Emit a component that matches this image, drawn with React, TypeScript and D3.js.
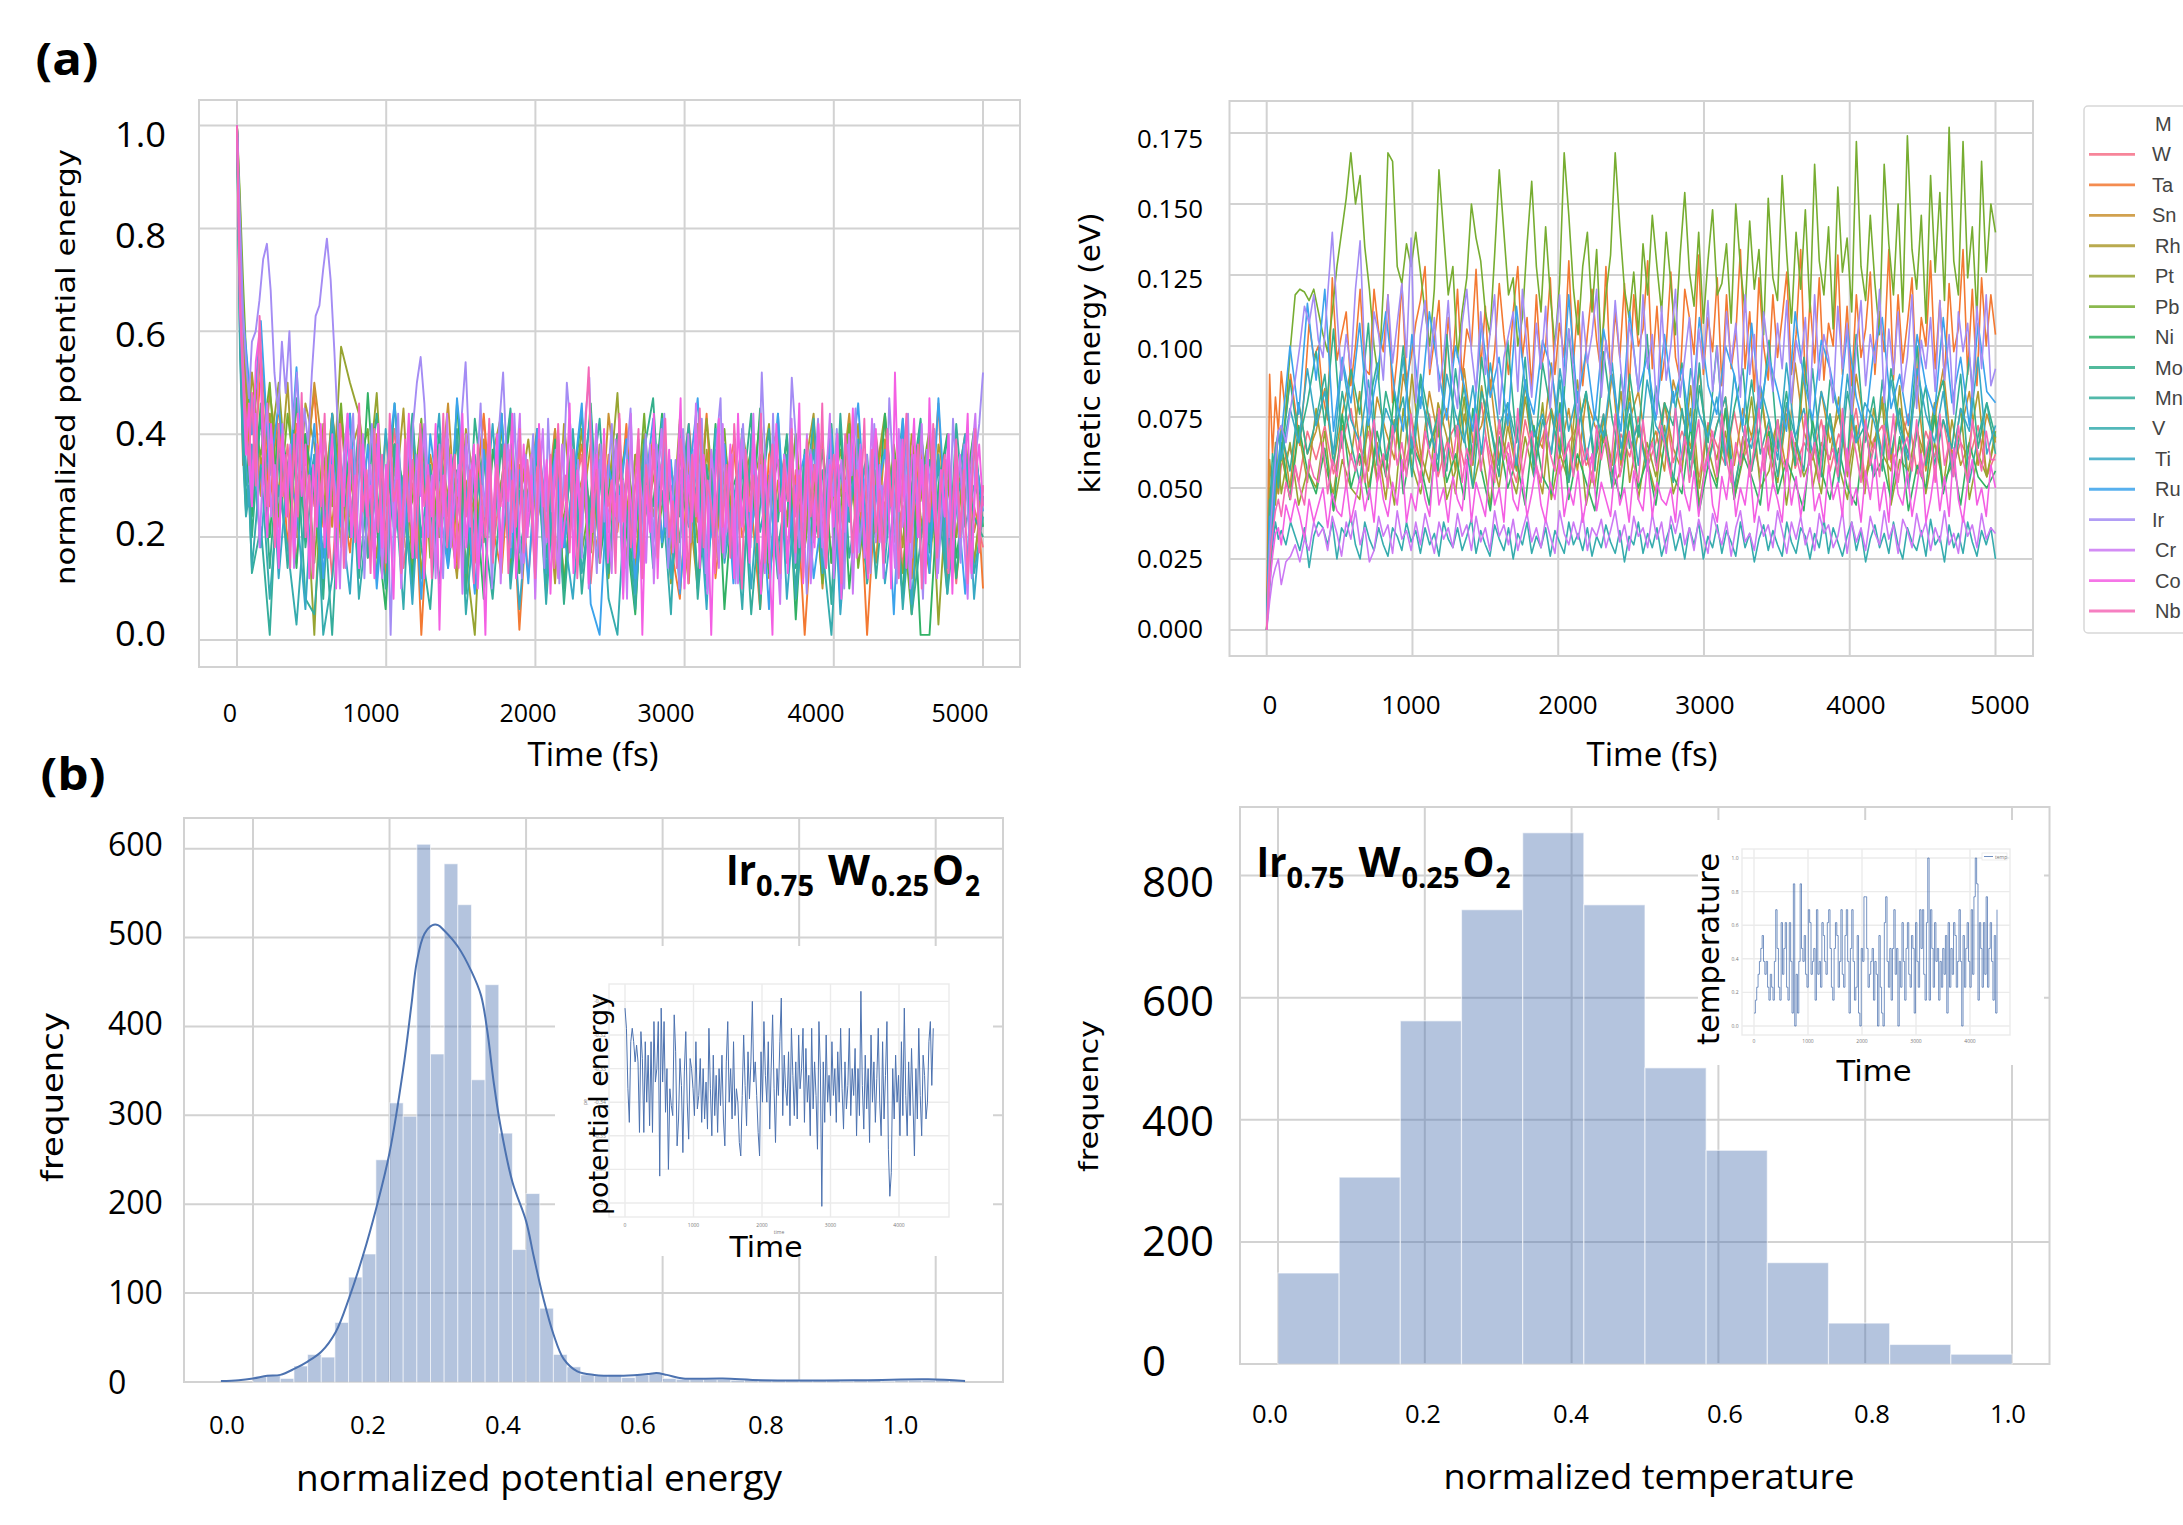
import React from "react";
import * as d3 from "d3";

const metals = ["W","Ta","Sn","Rh","Pt","Pb","Ni","Mo","Mn","V","Ti","Ru","Ir","Cr","Co","Nb"];
const metalColors = ["#f67088","#f37932","#ca9131","#ad9c31","#97a431","#77ad31","#32b165","#34af8b","#35ad9c","#36acae","#38a9c5","#3ba3ec","#a48cf4","#cc79f4","#f45fe3","#f569b7"];

// normalized potential energy, in hundredths
const peW = [100,70,52,44,36,48,30,44,22,38,15,40,26,34,12,42,24,37,18,33,27,
41,14,30,36,20,39,25,13,35,29,43,17,31,22,38,12,34,26,41,19,28,36,11,33,
24,40,16,30,37,21,35,13,28,42,23,32,18,38,26,10,36,29,20,41,15,33,25,39,
12,31,22,37,27,17,40,24,34,14,30,38,20,28,35,11,33,26,18];
const peTa = [100,66,34,46,40,30,52,26,46,18,42,34,48,22,44,30,17,40,24,38,12,
35,27,43,1,33,20,39,15,30,25,44,22,13,37,2,29,41,19,34,11,28,38,24,16,
36,21,42,14,31,26,40,18,8,35,23,44,12,30,38,20,27,6,36,41,17,32,1,28,
39,15,34,23,37,1,30,43,19,26,12,36,22,46,10,33,28,40,10];
const peSn = [100,74,60,50,38,44,28,48,35,24,46,30,50,36,22,44,28,38,16,40,26,
33,18,42,12,36,27,46,20,31,15,39,24,43,13,34,28,37,21,41,10,32,25,38,17,
44,29,14,36,23,40,19,33,26,11,42,30,16,38,22,35,27,43,13,31,24,40,18,34,
10,37,28,44,20,30,15,39,25,33,12,41,23,36,17,29,40,21,30];
const peRh = [100,78,56,48,42,52,34,44,28,50,20,46,38,24,44,18,36,42,30,16,40,
26,45,14,33,22,38,28,12,41,30,19,36,44,15,27,39,23,33,11,42,25,31,17,38,
21,35,28,13,40,24,34,18,43,27,10,37,22,32,16,41,29,36,12,25,39,20,33,44,
14,28,37,23,42,11,31,26,35,18,40,24,13,38,30,20,36,15,28];
const pePt = [100,84,62,54,44,40,55,36,50,28,46,32,1,42,26,57,50,44,30,48,18,
36,25,42,12,34,20,38,28,16,1,37,24,31,44,13,29,39,21,34,10,26,41,17,33,
28,48,14,36,23,31,40,11,27,37,19,43,25,33,15,39,22,30,42,12,34,26,18,41,
21,36,10,29,38,16,32,44,24,13,35,27,40,3,31,20,37,15,30];
const pePb = [100,86,70,56,48,42,36,50,24,44,30,40,15,36,28,46,20,34,41,12,30,
38,22,27,43,16,33,24,39,10,29,36,19,42,14,31,26,37,9,33,23,40,17,28,35,
12,30,38,21,44,15,26,34,19,39,10,32,24,41,16,29,37,13,27,35,22,40,18,31,
11,36,25,42,14,28,33,19,38,24,5,30,41,17,34,12,27,37,26];
const peNi = [100,64,44,30,38,24,46,20,42,34,14,40,28,10,44,26,36,18,48,22,6,
38,30,12,41,25,34,16,46,20,31,8,37,27,43,13,29,35,19,39,10,33,24,46,15,
28,40,21,5,36,26,44,12,31,22,38,17,42,6,30,35,20,45,13,27,39,4,33,24,
37,15,41,10,29,34,19,44,23,9,36,1,1,30,40,16,28,41,22];
const peMo = [100,60,40,26,34,20,44,14,38,28,47,18,34,8,42,24,37,12,30,44,20,
46,26,10,36,22,40,15,33,9,43,28,19,38,12,31,25,41,16,35,7,29,44,21,33,
13,39,26,9,37,47,18,30,24,41,11,34,20,38,15,28,44,6,32,23,40,14,36,19,
27,42,10,33,25,13,38,21,35,8,30,43,17,28,39,12,34,24,20];
const peMn = [100,58,38,25,30,13,22,1,36,14,40,8,5,28,1,34,20,42,16,30,10,
38,24,44,18,6,32,26,41,13,36,22,8,30,45,17,27,40,11,33,21,37,9,28,43,
15,31,24,6,39,19,35,12,27,42,8,30,23,38,14,34,5,26,41,18,29,10,37,21,
33,7,44,16,28,36,12,31,24,40,5,19,35,27,9,42,22,30,26];
const peV = [100,56,36,24,28,14,34,8,30,18,3,26,36,1,12,30,44,8,24,38,15,
31,6,42,20,34,11,28,39,5,25,36,16,44,10,29,22,37,7,33,18,41,13,27,35,
8,1,32,20,38,14,29,5,42,24,34,10,37,17,28,6,40,21,31,12,36,8,26,43,
18,1,33,23,39,11,30,15,36,6,27,42,19,34,9,25,38,13,24];
const peTi = [100,68,46,34,26,38,18,42,12,33,26,6,36,16,44,24,9,38,28,12,41,
20,32,7,36,25,44,14,29,38,10,22,42,18,33,6,27,40,13,35,21,8,30,44,16,
34,25,39,9,28,19,43,12,36,23,31,6,41,15,27,38,10,33,20,44,8,30,24,37,
13,41,5,28,34,18,39,11,26,43,7,32,21,36,14,29,40,8,28];
const peRu = [100,76,63,57,50,40,62,32,46,27,53,24,42,12,36,22,44,18,38,10,31,
46,20,35,8,40,26,14,47,29,9,37,22,44,16,33,11,41,25,36,18,30,46,7,1,
34,23,39,12,28,43,19,35,9,31,47,15,26,38,11,41,21,33,6,44,17,29,36,12,
25,40,8,31,46,19,27,37,5,43,23,34,13,47,18,30,9,38,25];
const peIr = [100,82,64,54,47,58,60,66,74,77,68,52,44,58,48,60,41,52,33,45,
38,52,63,65,72,78,70,56,40,28,14,33,44,22,38,12,30,42,25,36,
18,34,1,28,44,20,36,26,42,50,55,46,30,18,38,24,12,40,22,34,
28,44,54,36,15,32,46,24,38,10,30,42,52,34,18,44,26,12,36,28,
40,20,33,14,43,25,37,11,30,50,41,22,35,16,44,51,27,13,38,23,
32,42,18,28,9,36,45,21,33,12,40,26,17,38,30,44,14,24,35,10,
41,28,19,37,25,43,13,31,22,39,47,16,29,36,11,34,42,24,18,38,
27,52,33,15,44,21,12,36,29,51,40,18,26,9,37,31,43,20,14,35,
28,41,23,10,38,32,45,17,26,36,13,42,24,30,19,47,33,11,39,27,
44,16,34,22,8,37,29,41,13,25,35,20,43,30,15,38,24,12,36,
42,52];
const peCr = [100,72,54,42,34,26,44,18,36,46,24,34,16,42,26,38,14,30,44,22,
32,12,38,26,42,18,34,28,10,36,44,20,30,14,40,26,34,18,42,12,
30,38,22,34,10,26,40,16,36,28,42,20,32,12,38,24,44,18,28,34,
9,40,22,36,14,30,26,42,17,35,11,28,38,21,33,44,15,26,36,8,
30,41,19,34,24,12,38,27,43,16,32,21,37,10,29,42,18,35,25,13,
39,23,31,8,44,20,34,27,15,38,11,30,41,22,36,17,26,33,12,40,
24,46,19,31,9,37,28,14,42,21,35,25,11,39,30,16,44,22,34,13,
27,38,20,7,36,29,43,15,33,23,40,11,26,37,18,31,44,12,28,35,
21,40,9,30,38,16,25,43,19,34,12,37,27,14,41,22,32,10,36,26,
42,17,29,38,12,33,24,40,15,27,36,20,8,35,44,22,30];
const peCo = [100,64,50,36,46,26,54,60,32,20,42,30,14,40,24,36,16,44,28,38,
12,34,22,42,18,30,40,10,36,26,44,20,32,14,38,24,30,12,42,18,
34,26,8,38,22,30,44,16,28,40,12,34,24,42,2,32,20,36,14,28,
44,18,30,38,10,26,1,36,22,40,16,33,27,44,12,24,38,20,32,14,
42,26,35,9,30,40,18,25,46,13,33,22,38,11,28,36,19,41,15,31,
24,43,8,35,27,16,39,1,30,21,44,12,34,25,37,18,29,47,10,32,
23,40,14,36,27,1,31,43,17,26,38,12,44,22,33,15,40,28,9,35,
20,1,42,25,32,13,38,24,46,11,30,36,18,42,27,14,34,22,40,8,
31,26,45,16,37,21,12,33,41,19,28,36,10,52,25,39,14,30,43,20,
35,11,47,27,17,33,24,40,9,36,22,29,44,13,31,38,26];
const peNb = [100,66,52,42,34,48,30,63,44,26,38,18,42,28,36,14,40,24,48,20,
32,12,38,26,44,16,34,22,42,14,30,37,19,46,25,33,13,41,21,36,
15,44,27,31,13,39,23,35,16,42,26,32,12,37,22,44,18,30,36,14,
40,24,33,11,38,28,20,43,15,34,26,38,13,31,22,41,17,35,25,12,
39,29,20,36,14,42,24,32,17,37,12,28,40,53,21,33,15,38,26,31,
13,44,23,35,18,29,41,12,34,25,37,16,30,43,20,27,14,39,33,11,
36,24,45,18,31,26,13,40,22,34,16,42,28,10,37,25,32,19,44,15,
30,38,21,13,35,27,41,17,32,12,39,24,34,20,46,14,28,36,22,11,
40,30,17,33,25,43,13,37,21,29,15,41,26,35,12,31,44,19,27,38,
10,34,23,42,16,30,36,13,25,39,20,33,11,28,41,17,30];
const peSeries = [peW,peTa,peSn,peRh,pePt,pePb,peNi,peMo,peMn,peV,peTi,peRu,peIr,peCr,peCo,peNb];

// kinetic energy, in thousandths of an eV
const keW = [0,28,45,52,48,58,64,52,70,60,72,55,66,78,58,70,52,62,74,56,68,
60,76,54,66,72,58,64,80,56,70,62,52,74,60,68,78,55,66,72,58,63,76,54,69,
61,75,57,66,80,59,70,62,54,73,65,58,77,60,68,55,72,63,79,57,66,60,74,56,
69,62,78,54,67,72,59,64,76,55,70,61,74,57,66,60,72,54,62];
const keTa = [0,90,62,82,70,91,75,90,78,65,84,108,96,100,82,74,124,95,104,112,
86,100,120,92,90,120,105,98,118,80,96,122,88,96,108,116,128,90,102,116,
82,110,94,120,88,106,100,127,92,114,84,98,122,104,90,112,128,96,110,85,
118,92,100,124,90,108,96,130,94,116,86,104,120,102,90,128,88,112,96,122,
84,118,100,106,130,92,114,88,100,126,96,88,120,110,97,132,90,110,98,124,
86,118,92,104,134,92,112,84,124,100,88,118,96,110,126,90,104,134,86,116,
94,124,88,108,100,132,90,114,86,118,96,106,126,90,112,98,134,88,118,94,
108,124,86,110,100,130,92,116,88,122,98,106,134,90,120,86,124,100,118,104];
const keSn = [0,60,48,66,55,72,50,80,62,70,85,58,76,92,64,56,82,70,60,90,74,
58,84,68,78,56,92,66,72,88,60,76,58,86,70,64,94,62,78,56,82,72,66,90,58,
74,84,62,70,56,88,76,64,92,60,72,82,58,78,68,86,62,74,56,94,70,60,84,66,
76,58,90,72,64,82,60,78,68,86,56,74,92,62,70,84,58,76,66];
const keRh = [0,50,40,58,48,62,46,70,52,78,58,48,72,60,84,50,66,46,74,56,90,
62,52,80,68,48,76,58,86,64,50,72,56,82,60,48,78,66,54,88,62,50,74,58,84,
52,70,60,48,80,64,56,86,50,72,60,78,48,68,56,84,62,52,76,58,90,50,66,60,
82,54,72,48,78,62,56,86,52,70,60,80,50,74,58,66,84,54,68];
const kePt = [0,38,52,44,60,48,66,44,56,50,70,42,60,50,46,74,54,62,44,78,58,
48,66,72,46,56,82,50,64,44,74,58,48,68,54,80,46,62,52,76,44,60,70,50,56,
84,46,66,54,72,48,58,78,44,64,52,70,46,60,82,50,56,74,44,66,54,62,48,76,
58,46,70,52,64,80,44,60,56,72,48,66,52,58,78,46,62,54,70];
const kePb = [0,18,36,50,58,60,78,100,118,120,119,116,120,112,104,98,112,128,140,152,
168,150,160,135,120,100,88,120,168,165,128,122,136,128,140,126,112,100,120,162,
140,118,128,96,112,124,150,138,130,112,104,132,162,140,118,124,100,110,136,158,
128,112,142,118,100,122,168,146,120,104,128,140,112,134,98,118,132,168,142,120,
110,126,104,136,118,146,128,112,140,122,104,132,154,126,114,140,108,130,148,118,
122,136,108,150,128,112,144,120,134,104,152,124,116,160,132,108,140,120,148,112,
164,130,118,142,106,156,126,138,112,172,128,116,146,122,104,164,136,118,150,112,
174,134,120,146,108,160,126,154,116,177,130,118,172,124,142,110,165,126,150,140];
const keNi = [0,30,48,58,52,66,46,72,56,48,64,42,76,50,62,46,70,54,84,48,66,
58,44,74,52,62,46,78,56,42,68,50,60,44,72,54,48,80,46,62,52,42,70,56,46,
76,50,60,44,66,54,48,72,42,58,50,78,46,62,54,44,70,48,60,52,42,74,56,46,
64,50,44,72,54,60,46,68,42,58,50,76,48,62,44,66,54,50,56];
const keMo = [0,42,62,56,70,60,88,66,80,98,72,106,64,92,76,108,58,84,70,100,62,
90,74,56,104,68,86,60,96,72,54,102,66,88,58,94,76,62,106,70,84,56,98,74,60,
90,68,104,58,80,72,94,54,86,66,100,60,78,92,56,72,102,64,84,58,96,70,54,88,
76,60,104,66,82,56,92,72,62,100,58,78,88,54,70,96,64,80,68];
const keMn = [0,46,36,62,50,70,56,80,62,74,90,58,84,66,52,78,94,60,70,82,54,
88,64,76,56,92,68,50,84,72,58,80,66,96,54,74,62,88,52,70,84,60,76,50,90,
64,72,56,86,68,52,78,60,94,58,72,82,50,66,88,62,74,54,80,68,56,92,60,76,
52,84,66,72,54,88,62,78,50,70,86,58,74,64,90,52,68,80,62];
const keV = [0,14,30,38,32,35,30,38,33,28,36,22,33,38,36,30,38,25,36,33,
40,30,25,38,32,28,36,30,26,36,33,28,38,31,35,27,36,30,34,26,
38,32,29,36,28,33,39,27,35,30,26,37,32,28,36,25,34,30,38,27,
33,29,36,26,35,31,27,38,30,34,28,36,26,33,29,37,31,27,35,24,
33,30,38,27,34,29,36,26,32,37,28,34,25,36,30,38,25,33,29,37,
27,35,31,26,38,29,34,24,32,37,28,35,30,26,38,31,27,36,33,25,
34,29,39,27,36,31,26,33,38,28,35,24,32,37,29,34,27,38,30,25,
36,31,28,35,26,39,30,33,24,37,29,34,27,38,31,26,35,30,36,25];
const keTi = [0,32,55,64,70,60,78,66,92,72,84,62,95,74,66,88,60,78,70,96,64,
82,72,60,90,76,66,86,62,94,72,80,58,88,68,76,62,92,70,84,60,76,68,94,64,
80,58,88,72,66,84,60,92,76,68,82,58,90,70,64,86,74,60,94,68,78,62,84,72,
58,90,66,80,74,62,88,70,60,92,76,66,84,58,78,70,96,62,72];
const keRu = [0,40,30,54,60,68,100,76,115,88,120,70,96,80,108,72,90,112,84,70,104,
78,112,92,74,100,86,70,108,82,96,72,114,86,76,102,92,70,118,80,98,74,106,88,70,
112,84,96,74,104,80,92,70,110,86,76,100,90,72,108,78,96,84,70,112,88,74,102,92,
76,106,82,70,98,110,78,90,72,104,86,76,110,80,96,72,108,84,80];
const keIr = [0,30,46,60,70,72,66,78,88,100,114,108,118,102,96,118,140,112,88,104,
92,120,137,96,76,112,104,88,118,94,108,122,96,138,80,104,116,92,110,84,
96,116,88,78,108,120,98,84,112,90,104,118,76,96,104,112,84,120,98,82,
108,92,114,78,100,118,86,106,92,74,112,94,104,120,82,102,90,116,96,78,
108,98,84,118,92,104,76,114,88,100,120,82,96,110,78,106,92,116,84,100,
76,112,94,108,82,118,90,104,76,112,98,84,108,92,116,80,102,94,110,78,
118,88,104,96,80,114,92,108,76,100,116,86,104,94,120,80,106,90,112,84,
96,118,78,102,92,110,84,116,88,104,76,112,98,108,82,114,92,118,86,92];
const keCr = [0,10,18,22,25,16,24,26,30,24,32,28,38,33,36,28,40,34,26,38,
32,42,30,36,24,28,40,33,37,27,42,32,35,28,38,30,41,34,27,38,
32,36,29,41,33,37,28,40,31,36,28,42,33,37,30,39,28,35,41,31,
36,29,39,33,27,42,34,30,38,32,41,28,36,33,39,29,35,42,31,37,
28,40,33,36,29,41,32,38,27,40,34,42,30,36,28,39,33,27,41,35,
30,38,26,36,42,31,34,28,40,33,37,29,42,35,27,38,32,40,30,36,
28,41,34,37,29,33,42,27,38,31,36,28,40,34,30,42,32,37,27,39,
35,29,41,33,38,28,36,31,42,30,34,27,40,33,37,29,41,32,36,34];
const keCo = [0,16,26,34,36,30,44,38,46,40,32,46,38,44,50,36,48,42,40,52,
38,46,54,42,50,38,58,46,40,52,44,60,38,48,42,56,46,40,62,44,
50,38,54,46,42,60,38,52,46,40,58,44,50,38,62,46,42,54,40,48,
58,44,38,52,46,60,40,50,44,56,38,48,62,42,52,46,40,58,44,50,
38,56,46,42,60,40,52,46,44,50,38,60,48,42,56,40,52,62,44,38,
54,46,60,40,50,44,58,38,48,64,42,52,46,38,60,44,54,40,50,62,
42,48,38,58,46,52,40,64,44,50,38,56,46,60,42,52,38,62,48,44,
56,40,50,62,38,46,58,42,54,40,64,46,38,52,60,44,50,40,58,50];
const keNb = [0,24,34,42,46,40,52,46,58,50,44,60,54,52,66,48,60,54,70,50,
62,56,68,52,64,74,56,62,50,72,58,66,54,76,60,52,70,62,56,78,
54,66,60,72,52,64,58,76,56,68,62,52,74,60,66,56,78,54,64,70,
58,52,72,62,56,76,60,66,54,74,58,64,52,72,60,68,56,76,54,62,
70,58,52,74,60,66,56,72,62,54,78,58,68,52,64,74,56,62,70,54,
76,60,52,66,58,72,54,64,78,56,68,52,74,60,56,70,62,54,76,58,
66,52,72,60,64,54,78,56,70,62,52,74,58,66,54,72,60,76,52,64,
68,56,74,54,62,70,52,76,58,66,54,72,60,52,74,64,56,70,60,60];
const keSeries = [keW,keTa,keSn,keRh,kePt,kePb,keNi,keMo,keMn,keV,keTi,keRu,keIr,keCr,keCo,keNb];

// histogram of normalized potential energy: bars of width 0.02 from 0
const peHist = [6,8,4,18,31,28,67,118,144,250,314,299,605,369,583,537,340,447,280,149,212,83,31,17,8,7,8,5,8,10,4,3,3,3,3,2,3,2,2,2,2,2,2,1,2,2,1,2,2,2,3,2];
const peHistWidth = 0.02;
// density curve over that histogram
const kdeX = [-0.047,-0.021,0,0.021,0.04,0.061,0.08,0.1,0.121,0.141,0.161,0.181,0.2,0.22,0.232,0.24,0.251,0.263,0.271,0.28,0.3,0.32,0.334,0.343,0.353,0.363,0.38,0.4,0.411,0.426,0.44,0.455,0.475,0.5,0.543,0.58,0.591,0.606,0.63,0.688,0.746,0.892,0.989,1.043];
const kdeY = [1,2,4,7,8,15,23,34,56,95,142,197,258,352,424,473,504,514,514,508,490,462,435,396,335,286,225,181,142,92,54,26,12,8,7,9,10,8,4,4,2,2,3,1];

// histogram of normalized temperature: twelve equal bars from 0 to 1
const tempHist = [149,306,562,744,870,752,485,350,166,67,32,16];

// inset: potential energy (negated thousandths), evenly spaced over 0-4500
const insetPE = [312,318,336,346,322,318,322,328,
323,328,349,319,327,349,322,340,
326,347,322,349,316,334,330,316,
362,312,334,316,343,330,360,336,
341,344,314,325,353,345,327,335,
355,331,319,340,351,327,330,336,
344,322,342,338,327,346,330,345,
334,348,318,336,350,326,344,332,
349,330,341,326,345,353,328,316,
340,330,345,322,344,336,340,352,
356,338,320,335,347,325,339,328,
310,334,328,338,349,356,325,340,
316,332,340,322,348,330,314,336,
352,330,338,322,309,344,326,336,
341,325,347,318,332,344,328,345,
320,336,330,318,346,324,340,332,
350,318,342,328,338,354,316,330,
371,328,346,320,340,332,344,322,
338,330,346,325,340,318,336,348,
328,342,335,318,344,330,338,324,
350,330,344,307,335,348,326,342,
330,352,320,340,328,346,333,318,
340,350,322,345,332,316,354,368,
361,330,345,326,340,332,350,322,
344,312,338,350,328,344,324,340,
356,330,345,318,338,350,326,332,
345,340,322,316,335,318];

// inset: normalized temperature in thirteenths, evenly spaced over 0-4500
const insetTemp = [1,2,3,4,5,6,7,5,4,5,3,2,4,3,2,5,9,
6,3,2,8,4,6,8,3,2,8,5,1,11,0,4,1,5,11,6,
5,7,4,3,9,8,4,5,6,2,9,4,5,3,8,7,5,4,8,
9,6,3,2,6,8,7,3,5,9,4,3,7,9,5,1,6,9,5,
2,3,7,1,0,6,5,10,10,6,3,4,5,6,2,5,4,0,
7,3,1,0,8,10,5,3,6,2,6,9,4,6,0,5,3,8,
5,2,6,8,4,3,7,6,1,8,5,3,9,6,9,4,2,8,
13,2,9,6,3,8,5,6,2,5,3,6,4,7,1,8,3,6,
4,8,7,3,5,9,5,0,7,3,6,8,5,3,9,4,10,
13,11,2,8,6,3,8,4,10,3,6,8,5,2,7,1,9];

const xTicks5000 = [0,1000,2000,3000,4000,5000];
const peTicks = [0,0.2,0.4,0.6,0.8,1.0];
const keTicks = [0,0.025,0.05,0.075,0.1,0.125,0.15,0.175];
const histXTicks = [0,0.2,0.4,0.6,0.8,1.0];
const peHistYTicks = [0,100,200,300,400,500,600];
const tempHistYTicks = [0,200,400,600,800];
const insetXTicks = [0,1000,2000,3000,4000];
const insetPETicks = [-0.37,-0.36,-0.35,-0.34,-0.33,-0.32,-0.31];
const insetTempTicks = [0,0.2,0.4,0.6,0.8,1.0];

const BODY = "'Open Sans', sans-serif";
const WIDE = "'DejaVu Sans', sans-serif";
const GRID = "#d2d2d2";
const BLUE = "#4c72b0";

function T(p: any) {
  const { x, y, size, font = BODY, weight, len, anchor = "middle", rot, fill = "#000", children } = p;
  return (
    <text x={x} y={y} fontSize={size} fontFamily={font} fontWeight={weight} textAnchor={anchor} dominantBaseline="central" fill={fill}
      textLength={len} lengthAdjust={len ? "spacingAndGlyphs" : undefined}
      transform={rot ? `rotate(${rot} ${x} ${y})` : undefined}>{children}</text>
  );
}

function Grid(p: any) {
  const { frame, xs, ys, stroke = GRID, sw = 2 } = p;
  return (
    <g stroke={stroke} strokeWidth={sw} fill="none">
      {xs.map((x: number, i: number) => <line key={"x" + i} x1={x} x2={x} y1={frame[2]} y2={frame[3]} />)}
      {ys.map((y: number, i: number) => <line key={"y" + i} x1={frame[0]} x2={frame[1]} y1={y} y2={y} />)}
      <rect x={frame[0]} y={frame[2]} width={frame[1] - frame[0]} height={frame[3] - frame[2]} />
    </g>
  );
}

// Series share the same sampling: five early samples, then even steps to 5000
function seriesTime(i: number, n: number) {
  return i < 5 ? i * 20 : 100 + ((i - 5) * 4900) / (n - 6);
}

function SeriesLines(p: any) {
  const { series, x, y, unit, sw } = p;
  return (
    <g fill="none" strokeWidth={sw} strokeLinejoin="round">
      {series.map((s: number[], k: number) => {
        const line = d3.line<number>().x((_, i) => x(seriesTime(i, s.length))).y((v) => y(v * unit));
        return <path key={k} d={line(s) ?? ""} stroke={metalColors[k]} />;
      })}
    </g>
  );
}

function Formula(p: any) {
  const { x, y } = p;
  const sub = y + 12;
  return (
    <g>
      <T x={x} y={y - 14} size={42} weight={700} anchor="start" len={30}>Ir</T>
      <T x={x + 30} y={sub - 9} size={28} weight={700} anchor="start" len={58}>0.75</T>
      <T x={x + 102} y={y - 14} size={42} weight={700} anchor="start" len={42}>W</T>
      <T x={x + 145} y={sub - 9} size={28} weight={700} anchor="start" len={58}>0.25</T>
      <T x={x + 206} y={y - 14} size={42} weight={700} anchor="start" len={32}>O</T>
      <T x={x + 239} y={sub - 9} size={28} weight={700} anchor="start" len={15}>2</T>
    </g>
  );
}

function TopLeft() {
  const x = d3.scaleLinear().domain([0, 5000]).range([237, 983]);
  const y = d3.scaleLinear().domain([0, 1]).range([640, 125.5]);
  const lx = d3.scaleLinear().domain(xTicks5000).range([230, 371, 528, 666, 816, 960]);
  const ly = d3.scaleLinear().domain(peTicks).range([632, 532, 432, 333, 234, 133]);
  return (
    <g>
      <Grid frame={[199, 1020, 100, 667]} xs={xTicks5000.map(x)} ys={peTicks.map(y)} />
      <SeriesLines series={peSeries} x={x} y={y} unit={0.01} sw={1.9} />
      {peTicks.map((t) => <T key={t} x={115} y={ly(t)} size={35} anchor="start" len={51}>{t.toFixed(1)}</T>)}
      {xTicks5000.map((t) => <T key={t} x={lx(t)} y={712} size={25}>{t}</T>)}
      <T x={593} y={753} size={32} len={131}>Time (fs)</T>
      <T x={65} y={367} size={27} font={WIDE} rot={-90} len={436}>normalized potential  energy</T>
    </g>
  );
}

function TopRight() {
  const x = d3.scaleLinear().domain([0, 5000]).range([1266.7, 1995.5]);
  const y = d3.scaleLinear().domain([0, 0.175]).range([630, 133]);
  const lx = d3.scaleLinear().domain(xTicks5000).range([1270, 1411, 1568, 1705, 1856, 2000]);
  const ly = d3.scaleLinear().domain([0, 0.175]).range([628, 138]);
  return (
    <g>
      <Grid frame={[1229.5, 2033, 101, 656]} xs={xTicks5000.map(x)} ys={keTicks.map(y)} />
      <SeriesLines series={keSeries} x={x} y={y} unit={0.001} sw={1.6} />
      {keTicks.map((t) => <T key={t} x={1137} y={ly(t)} size={26} anchor="start" len={66}>{t.toFixed(3)}</T>)}
      {xTicks5000.map((t) => <T key={t} x={lx(t)} y={704} size={26}>{t}</T>)}
      <T x={1652} y={753} size={32} len={131}>Time (fs)</T>
      <T x={1090} y={353} size={28} font={WIDE} rot={-90} len={281}>kinetic energy (eV)</T>
    </g>
  );
}

function Legend() {
  const rows = d3.scaleLinear().domain([0, 16]).range([124, 611]);
  return (
    <g>
      <rect x={2084} y={106} width={130} height={527} rx={4} fill="#fff" stroke="#d8d8d8" strokeWidth={1.5} />
      <T x={2155} y={rows(0)} size={20} font="'Liberation Sans', sans-serif" anchor="start" fill="#444">M</T>
      {metals.map((m, i) => (
        <g key={m}>
          <line x1={2089} x2={2135} y1={rows(i + 1)} y2={rows(i + 1)} stroke={metalColors[i]} strokeWidth={2.8} opacity={0.85} />
          <T x={m === "W" || m === "Ta" || m === "Sn" || m === "V" || m === "Ir" ? 2152 : 2155} y={rows(i + 1)} size={20} font="'Liberation Sans', sans-serif" anchor="start" fill="#444">{m}</T>
        </g>
      ))}
    </g>
  );
}

function InsetPE() {
  const x = d3.scaleLinear().domain([0, 4000]).range([625, 899]);
  const y = d3.scaleLinear().domain([-0.32, -0.37]).range([1035, 1203]);
  const line = d3.line<number>().x((_, i) => x((i * 4500) / (insetPE.length - 1))).y((v) => y(-v / 1000));
  return (
    <g>
      <rect x={555} y={946} width={438} height={310} fill="#fff" />
      <Grid frame={[609, 949, 984, 1217]} xs={insetXTicks.map(x)} ys={insetPETicks.map(y)} stroke="#ebebeb" sw={1.4} />
      <path d={line(insetPE) ?? ""} fill="none" stroke={BLUE} strokeWidth={1} />
      {insetPETicks.map((t) => <T key={t} x={600} y={y(t)} size={5} fill="#777">{t.toFixed(2)}</T>)}
      {insetXTicks.map((t) => <T key={t} x={x(t)} y={1225} size={5} fill="#777">{t}</T>)}
      <T x={779} y={1232} size={5} fill="#777">time</T>
      <T x={585} y={1102} size={5} rot={-90} fill="#777">pe</T>
      <T x={598} y={1104} size={27} font={WIDE} rot={-90} len={222}>potential energy</T>
      <T x={766} y={1247} size={29} font={WIDE} len={73}>Time</T>
    </g>
  );
}

function InsetTemp() {
  const x = d3.scaleLinear().domain([0, 4000]).range([1754, 1970]);
  const y = d3.scaleLinear().domain([0, 1]).range([1026, 858]);
  const line = d3.line<number>().x((_, i) => x((i * 4500) / (insetTemp.length - 1))).y((v) => y(v / 13)).curve(d3.curveStepAfter);
  return (
    <g>
      <rect x={1698} y={820} width={346} height={245} fill="#fff" />
      <Grid frame={[1742, 2010, 849, 1035]} xs={insetXTicks.map(x)} ys={insetTempTicks.map(y)} stroke="#ebebeb" sw={1.4} />
      <path d={line(insetTemp) ?? ""} fill="none" stroke={BLUE} strokeWidth={0.9} opacity={0.85} />
      {insetTempTicks.map((t) => <T key={t} x={1735} y={y(t)} size={5} fill="#777">{t.toFixed(1)}</T>)}
      {insetXTicks.map((t) => <T key={t} x={x(t)} y={1041} size={5} fill="#777">{t}</T>)}
      <rect x={1982} y={853} width={25} height={7} fill="#fff" stroke="#e6e6e6" strokeWidth={0.7} />
      <line x1={1984} x2={1993} y1={856.5} y2={856.5} stroke={BLUE} strokeWidth={0.8} />
      <T x={1995} y={856.5} size={5} anchor="start" fill="#777">temp</T>
      <T x={1708} y={949} size={30} font={WIDE} rot={-90} len={192}>temperature</T>
      <T x={1874} y={1071} size={29} font={WIDE} len={75}>Time</T>
    </g>
  );
}

function HistPE() {
  const x = d3.scaleLinear().domain([0, 1]).range([253, 935.7]);
  const y = d3.scaleLinear().domain([0, 600]).range([1382, 848.7]);
  const lx = d3.scaleLinear().domain(histXTicks).range([227, 368, 503, 638, 766, 900.5]);
  const ly = d3.scaleLinear().domain([0, 600]).range([1381, 843]);
  const curve = d3.line<number>().x((v) => x(v)).y((_, i) => y(kdeY[i])).curve(d3.curveCatmullRom);
  return (
    <g>
      <Grid frame={[184, 1003, 818, 1382]} xs={histXTicks.map(x)} ys={peHistYTicks.map(y)} />
      {peHist.map((v, i) => (
        <rect key={i} x={x(i * peHistWidth)} y={y(v)} width={x(peHistWidth) - x(0)} height={y(0) - y(v)} fill={BLUE} fillOpacity={0.42} stroke="#fff" strokeOpacity={0.6} strokeWidth={1} />
      ))}
      <path d={curve(kdeX) ?? ""} fill="none" stroke={BLUE} strokeWidth={2} />
      {peHistYTicks.map((t) => <T key={t} x={108} y={ly(t)} size={32} anchor="start">{t}</T>)}
      {histXTicks.map((t) => <T key={t} x={lx(t)} y={1424} size={26} len={36}>{t.toFixed(1)}</T>)}
      <T x={539} y={1477} size={36} len={486}>normalized potential  energy</T>
      <T x={52} y={1097} size={31} font={WIDE} rot={-90} len={170}>frequency</T>
      <InsetPE />
      <Formula x={726} y={882} />
    </g>
  );
}

function HistTemp() {
  const x = d3.scaleLinear().domain([0, 1]).range([1278, 2012]);
  const y = d3.scaleLinear().domain([0, 800]).range([1364, 875.5]);
  const lx = d3.scaleLinear().domain(histXTicks).range([1270, 1423, 1571, 1725, 1872, 2008]);
  const ly = d3.scaleLinear().domain([0, 800]).range([1359, 880]);
  const bw = 1 / tempHist.length;
  return (
    <g>
      <Grid frame={[1240, 2049.5, 807, 1364]} xs={histXTicks.map(x)} ys={tempHistYTicks.map(y)} />
      <InsetTemp />
      {tempHist.map((v, i) => (
        <rect key={i} x={x(i * bw)} y={y(v)} width={x(bw) - x(0)} height={y(0) - y(v)} fill={BLUE} fillOpacity={0.42} stroke="#fff" strokeOpacity={0.6} strokeWidth={1.2} />
      ))}
      {tempHistYTicks.map((t) => <T key={t} x={1142} y={ly(t)} size={42} anchor="start">{t}</T>)}
      {histXTicks.map((t) => <T key={t} x={lx(t)} y={1413} size={26} len={36}>{t.toFixed(1)}</T>)}
      <T x={1649} y={1475} size={35} len={411}>normalized temperature</T>
      <T x={1088} y={1096} size={27} font={WIDE} rot={-90} len={152}>frequency</T>
      <Formula x={1256.5} y={874} />
    </g>
  );
}

export default function App() {
  return (
    <svg width={2183} height={1525} viewBox="0 0 2183 1525" style={{ position: "absolute", left: 0, top: 0, display: "block", background: "#fff" }}>
      <T x={67} y={58} size={44} weight={700} len={63}>(a)</T>
      <T x={73} y={773} size={44} weight={700} len={65}>(b)</T>
      <TopLeft />
      <TopRight />
      <Legend />
      <HistPE />
      <HistTemp />
    </svg>
  );
}
